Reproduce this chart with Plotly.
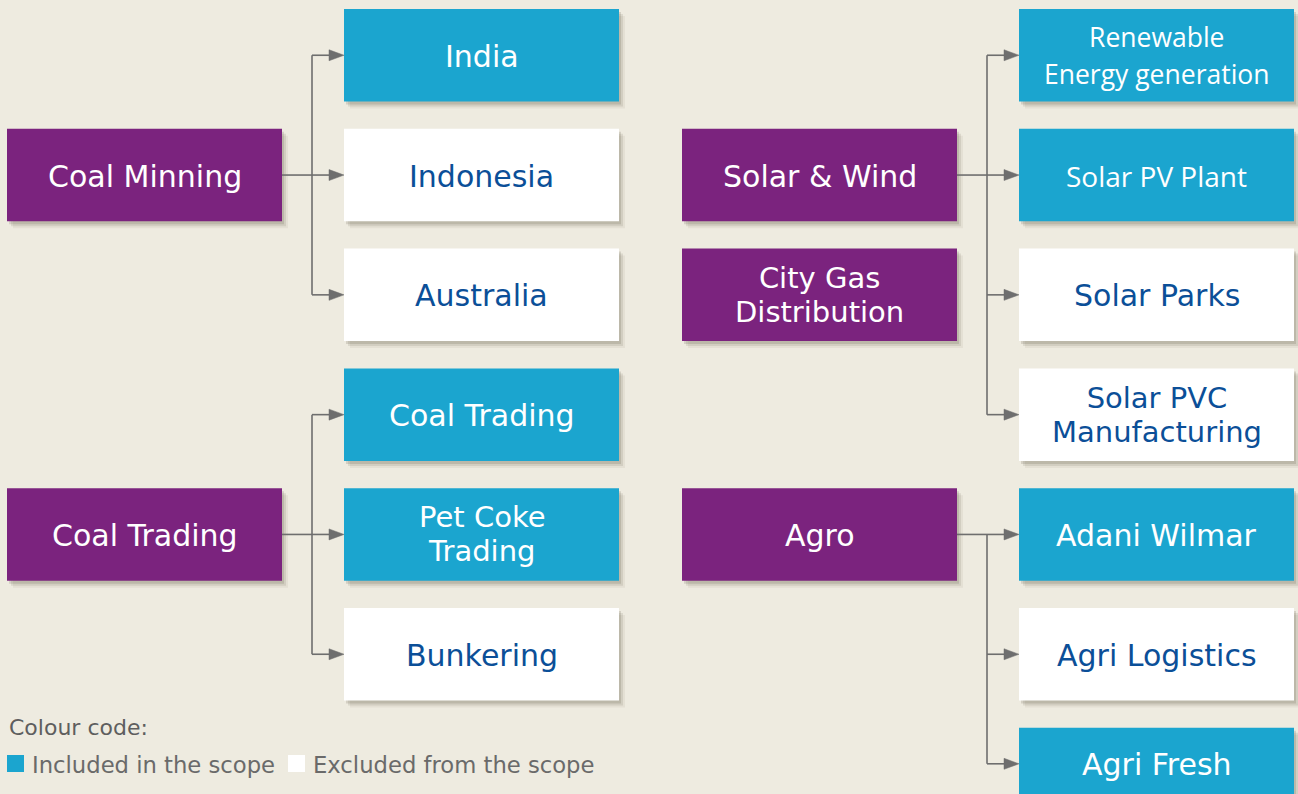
import plotly.graph_objects as go

# ---- data ----
parent_labels = ["Coal Minning", "Coal Trading", "Solar & Wind", "City Gas\nDistribution", "Agro"]
parent_side = [0, 0, 1, 1, 1]
parent_row = [1, 4, 1, 2, 4]

child_labels = ["India", "Indonesia", "Australia",
                "Coal Trading", "Pet Coke\nTrading", "Bunkering",
                "Renewable\nEnergy generation", "Solar PV Plant", "Solar Parks", "Solar PVC\nManufacturing",
                "Adani Wilmar", "Agri Logistics", "Agri Fresh"]
child_parent = [0, 0, 0, 1, 1, 1, 2, 2, 2, 2, 4, 4, 4]
child_row = [0, 1, 2, 3, 4, 5, 0, 1, 2, 3, 4, 5, 6]
child_included = [True, False, False, True, True, False, True, True, False, False, True, False, True]
child_narrow = [False, False, False, False, False, False, True, True, False, False, False, False, False]

legend_title = "Colour code:"
legend_items = ["Included in the scope", "Excluded from the scope"]

# ---- style ----
BG = "#EEEBE0"
PURPLE = "#7B237E"
BLUE = "#1BA5CF"
WHITE = "#FFFFFF"
NAVY = "#0B4F98"
LINE = "#6E6E6E"
FONT = "DejaVu Sans"
NARROW_FONT = "Open Sans"
FS = 30
W, H = 1298, 794

BOX_W = 275
BOX_H = 92.5
ROW0 = 9
ROW_STEP = 119.8
PARENT_X = [7, 682]
CHILD_X = [344, 1019]

shapes = []
annotations = []


def add_box(x0, y0, h, fill):
    for dx, dy, a in [(6, 7, 0.06), (4, 5, 0.10), (2, 3, 0.14)]:
        shapes.append(dict(type="rect", xref="x", yref="y", x0=x0 + dx, x1=x0 + BOX_W + dx,
                           y0=y0 + dy, y1=y0 + h + dy, line=dict(width=0),
                           fillcolor=f"rgba(60,50,30,{a})", layer="below"))
    shapes.append(dict(type="rect", xref="x", yref="y", x0=x0, x1=x0 + BOX_W, y0=y0, y1=y0 + h,
                       line=dict(width=0), fillcolor=fill, layer="below"))


def add_text(cx, cy, label, color, family=FONT, size=FS, two_size=29, pitch=34):
    lines = label.split("\n")
    if len(lines) == 1:
        annotations.append(dict(x=cx, y=cy + 1, xref="x", yref="y", text=label,
                                showarrow=False, align="center",
                                font=dict(family=family, size=size, color=color),
                                xanchor="center", yanchor="middle"))
    else:
        # base font sets the line pitch; spans carry the visible size
        base = pitch / 1.3
        txt = "<br>".join(f'<span style="font-size:{two_size}px">{ln}</span>' for ln in lines)
        annotations.append(dict(x=cx, y=cy, xref="x", yref="y", text=txt,
                                showarrow=False, align="center",
                                font=dict(family=family, size=base, color=color),
                                xanchor="center", yanchor="middle"))


def line(x0, y0, x1, y1):
    shapes.append(dict(type="line", xref="x", yref="y", x0=x0, y0=y0, x1=x1, y1=y1,
                       line=dict(color=LINE, width=1.6)))


def arrow_head(xt, y):
    shapes.append(dict(type="path", xref="x", yref="y",
                       path=f"M {xt},{y} L {xt-15},{y-5.5} L {xt-15},{y+5.5} Z",
                       fillcolor=LINE, line=dict(color=LINE, width=0.5)))


def row_top(r):
    return ROW0 + r * ROW_STEP


# child boxes (last row truncated by the image edge)
child_centers = []
for lab, r, inc, p, nar in zip(child_labels, child_row, child_included, child_parent, child_narrow):
    side = parent_side[p]
    x0 = CHILD_X[side]
    y0 = row_top(r)
    h = BOX_H if r < 6 else 72
    add_box(x0, y0, h, BLUE if inc else WHITE)
    cy = y0 + h / 2
    child_centers.append(cy)
    if nar:
        add_text(x0 + BOX_W / 2, cy, lab, WHITE if inc else NAVY, family=NARROW_FONT,
                 size=28, two_size=26.5, pitch=36.5)
    else:
        add_text(x0 + BOX_W / 2, cy, lab, WHITE if inc else NAVY)

# parent boxes
parent_centers = []
for lab, s, r in zip(parent_labels, parent_side, parent_row):
    x0 = PARENT_X[s]
    y0 = row_top(r)
    add_box(x0, y0, BOX_H, PURPLE)
    cy = y0 + BOX_H / 2
    parent_centers.append(cy)
    add_text(x0 + BOX_W / 2, cy, lab, WHITE)

# connectors
for p, (s, pcy) in enumerate(zip(parent_side, parent_centers)):
    kids = [i for i, cp in enumerate(child_parent) if cp == p]
    if not kids:
        continue
    cx0 = CHILD_X[s]
    spine = cx0 - 32
    ys = [child_centers[i] for i in kids] + [pcy]
    line(spine, min(ys), spine, max(ys))
    line(PARENT_X[s] + BOX_W, pcy, spine, pcy)
    for i in kids:
        line(spine, child_centers[i], cx0 - 10, child_centers[i])
        arrow_head(cx0, child_centers[i])

# legend
annotations.append(dict(x=7, y=727, xref="x", yref="y", text=legend_title, showarrow=False,
                        font=dict(family=FONT, size=22, color="#5E5E5E"),
                        xanchor="left", yanchor="middle"))
sw_x = [7, 288]
sw_col = [BLUE, WHITE]
for sx, col, txt in zip(sw_x, sw_col, legend_items):
    shapes.append(dict(type="rect", xref="x", yref="y", x0=sx, x1=sx + 17, y0=755, y1=772,
                       line=dict(width=0), fillcolor=col))
    annotations.append(dict(x=sx + 23, y=765, xref="x", yref="y", text=txt, showarrow=False,
                            font=dict(family=FONT, size=22.7, color="#6A6A6A"),
                            xanchor="left", yanchor="middle"))

fig = go.Figure()
fig.update_layout(
    width=W, height=H,
    margin=dict(l=0, r=0, t=0, b=0),
    paper_bgcolor=BG, plot_bgcolor=BG,
    xaxis=dict(range=[0, W], visible=False, fixedrange=True),
    yaxis=dict(range=[H, 0], visible=False, fixedrange=True),
    shapes=shapes, annotations=annotations,
    showlegend=False,
)
fig.write_html("out.html", config={"displayModeBar": False},
               post_script="document.body.style.margin='0';document.body.style.overflow='hidden';")
